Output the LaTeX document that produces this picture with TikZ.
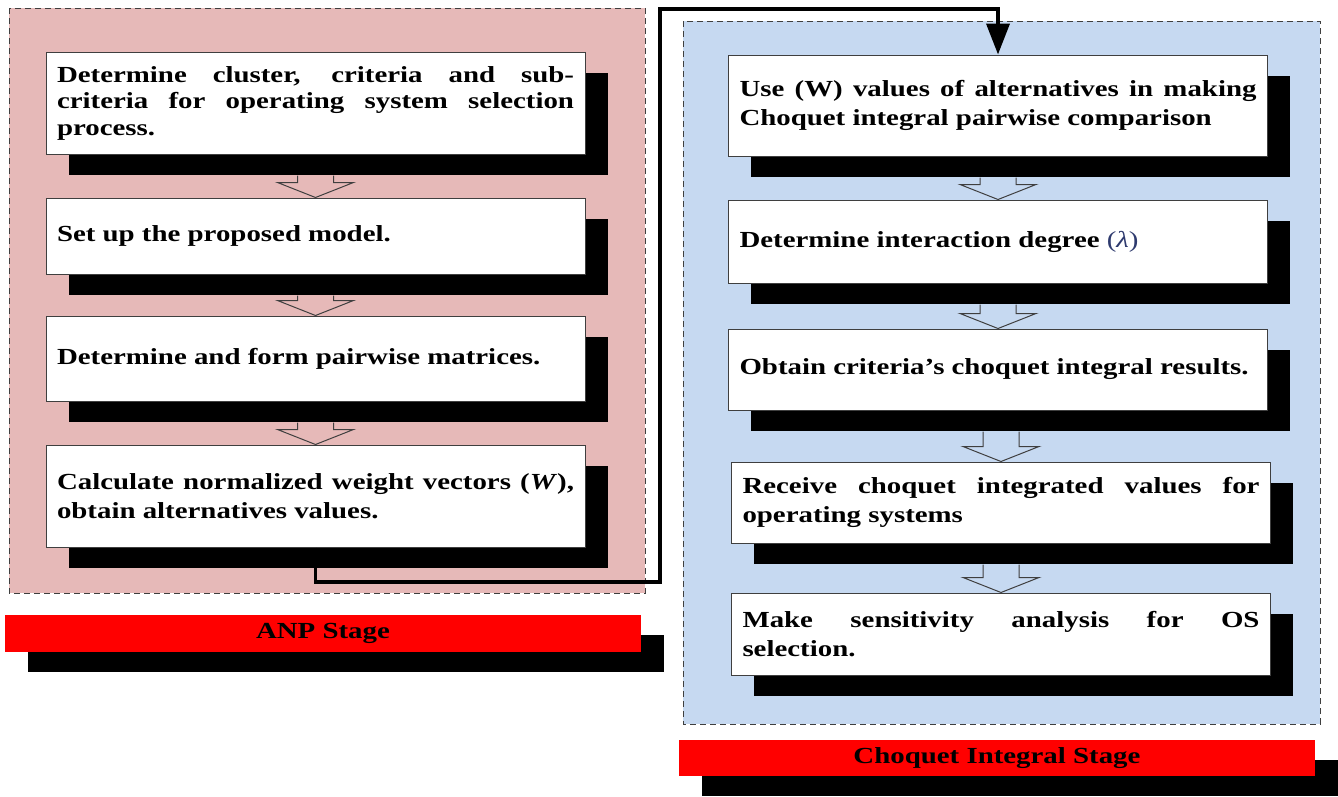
\documentclass[tikz,border=0pt]{standalone}
\usepackage{fontspec}
\setmainfont{Liberation Serif}[FakeStretch=1.255]
\usetikzlibrary{arrows.meta,shadows,calc}

\definecolor{anpfill}{HTML}{E6B9B8}
\definecolor{choqfill}{HTML}{C6D9F1}
\definecolor{edgegray}{HTML}{3F3F3F}
\definecolor{lambdablue}{HTML}{2E3A6E}

% paragraph settings for the justified step texts
\hyphenpenalty=10000
\tolerance=9999
\emergencystretch=20pt

\tikzset{
  zone/.style={draw=edgegray, line width=0.9pt, dash pattern=on 6pt off 4pt},
  stepbox/.style={draw=edgegray, line width=1pt, fill=white,
    inner xsep=11pt, inner ysep=0pt, text width=517pt, align=justify,
    font=\fontsize{23}{29.5}\selectfont\bfseries,
    drop shadow={shadow xshift=22.5pt, shadow yshift=-21pt, fill=black, opacity=1}},
  tightlines/.style={font=\fontsize{23}{26.5}\selectfont\bfseries},
  stagelabel/.style={fill=red, inner sep=0pt, minimum width=636pt,
    font=\fontsize{23}{27}\selectfont\bfseries, text=black,
    drop shadow={shadow xshift=23pt, shadow yshift=-20pt, fill=black, opacity=1}},
  flowarrow/.style={draw=edgegray, line width=1pt, line join=miter},
  link/.style={draw=black, line width=3.8pt, line join=miter,
    -{Triangle[length=31pt,width=23pt]}}
}

% hollow block arrow from the shadow of one step to the top of the next
\newcommand\downflow[2]{%
  \draw[flowarrow]
    ($(#2.north |- #1.south)+(-18,21)$) -- ($(#2.north)+(-18,-15)$)
    -- ($(#2.north)+(-38,-15)$) -- (#2.north)
    -- ($(#2.north)+(38,-15)$) -- ($(#2.north)+(18,-15)$)
    -- ($(#2.north |- #1.south)+(18,21)$);}

\begin{document}
\begin{tikzpicture}[x=1pt, y=-1pt]
\useasboundingbox (0,0) rectangle (1338,796);

% stage areas
\fill[anpfill] (9,8) rectangle (645,593);
\draw[zone] (9,8) rectangle (645,593);
\fill[choqfill] (683,21) rectangle (1320,724);
\draw[zone] (683,21) rectangle (1320,724);

% stage labels
\node[stagelabel, minimum height=37pt] (anplabel) at (323,633.5) {ANP Stage};
\node[stagelabel, minimum height=36pt] (choqlabel) at (997,758) {Choquet Integral Stage};

% ANP steps
\node[stepbox, tightlines, minimum height=102pt] (b1) at (315.5,103)
  {Determine cluster, criteria and sub-\linebreak criteria for operating system selection\linebreak process.};
\node[stepbox, minimum height=76pt] (b2) at (315.5,236)
  {Set up the proposed model.};
\node[stepbox, minimum height=85pt] (b3) at (315.5,358.5)
  {Determine and form pairwise matrices.};
\node[stepbox, minimum height=102pt] (b4) at (315.5,496)
  {Calculate normalized weight vectors (\textit{W}),\linebreak obtain alternatives values.};

% Choquet integral steps
\node[stepbox, minimum height=101pt] (r1) at (998,105.5)
  {Use (W) values of alternatives in making\linebreak Choquet integral pairwise comparison};
\node[stepbox, minimum height=83pt] (r2) at (998,241.5)
  {Determine interaction degree {\mdseries\color{lambdablue}(\textit{λ})}};
\node[stepbox, minimum height=81pt] (r3) at (998,369.5)
  {Obtain criteria’s choquet integral results.};
\node[stepbox, minimum height=81pt] (r4) at (1001,502.5)
  {Receive choquet integrated values for\linebreak operating systems};
\node[stepbox, minimum height=82pt] (r5) at (1001,634)
  {Make sensitivity analysis for OS\linebreak selection.};

% flow inside each stage
\downflow{b1}{b2}
\downflow{b2}{b3}
\downflow{b3}{b4}
\downflow{r1}{r2}
\downflow{r2}{r3}
\downflow{r3}{r4}
\downflow{r4}{r5}

% link from the ANP stage to the Choquet stage
\coordinate (k1) at (660,582);
\coordinate (k2) at (660,9);
\draw[link] (b4.south) |- (k1) -- (k2) -| (r1.north);
\end{tikzpicture}
\end{document}
